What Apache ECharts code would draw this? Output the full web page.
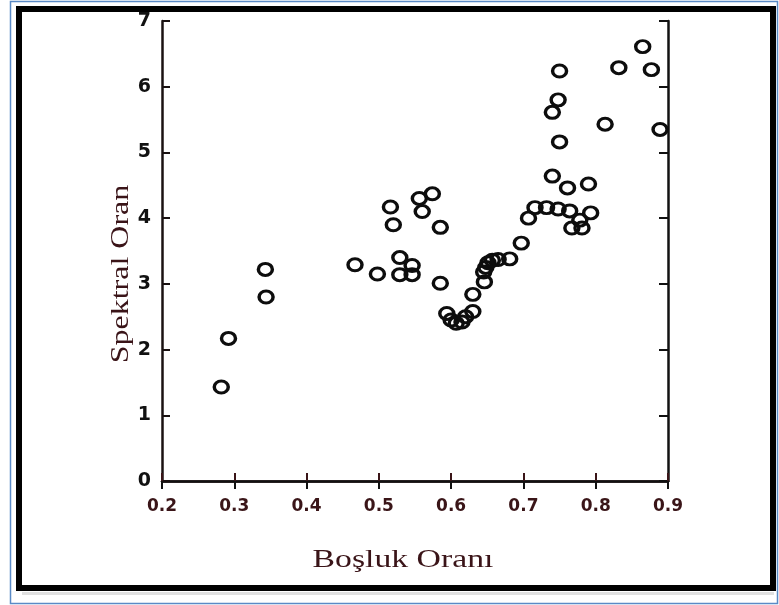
<!DOCTYPE html>
<html>
<head>
<meta charset="utf-8">
<script src="https://cdn.jsdelivr.net/npm/echarts@6/dist/echarts.min.js"></script>
<style>html,body{margin:0;padding:0;background:#fff}#c{width:779px;height:605px}</style>
</head>
<body>
<div id="c"></div>
<script>
// Data
var xValues = [0.282,0.292,0.343,0.344,0.467,0.498,0.516,0.520,0.529,0.529,0.546,0.546,0.556,0.560,0.574,0.585,0.585,0.594,0.600,0.607,0.615,0.620,0.630,0.630,0.646,0.645,0.648,0.651,0.657,0.665,0.681,0.697,0.707,0.716,0.732,0.748,0.764,0.793,0.778,0.767,0.781,0.740,0.761,0.790,0.750,0.740,0.748,0.750,0.813,0.832,0.865,0.877,0.889];
var yValues = [1.43,2.17,3.22,2.80,3.29,3.15,4.17,3.90,3.40,3.14,3.28,3.14,4.30,4.10,4.37,3.86,3.01,2.55,2.45,2.40,2.42,2.50,2.58,2.84,3.03,3.18,3.25,3.32,3.36,3.37,3.38,3.62,4.00,4.16,4.16,4.14,4.11,4.08,3.97,3.85,3.85,4.64,4.46,4.52,5.16,5.61,5.80,6.24,5.43,6.29,6.61,6.26,5.35];
var xTitle = 'Boşluk Oranı';
var yTitle = 'Spektral Oran';

var points = xValues.map(function (x, i) { return [x, yValues[i]]; });

var chart = echarts.init(document.getElementById('c'), null, { renderer: 'canvas' });
var maroon = '#3a1518';
var option = {
  backgroundColor: '#ffffff',
  animation: false,
  grid: { left: 162, top: 21, right: 111, bottom: 124 },
  xAxis: [{
    type: 'value', min: 0.2, max: 0.9, interval: 0.1, position: 'bottom',
    axisLine: { show: true, lineStyle: { color: maroon, width: 2.5 } },
    axisTick: { show: true, inside: true, length: 8, lineStyle: { color: maroon, width: 2 } },
    splitLine: { show: false },
    axisLabel: { color: maroon, fontFamily: 'DejaVu Sans', fontWeight: 'bold', fontSize: 17, margin: 17,
      formatter: function (v) { return v.toFixed(1); } }
  }, {
    type: 'value', min: 0.2, max: 0.9, interval: 0.1, position: 'top',
    axisLine: { show: true, lineStyle: { color: '#111', width: 2.5 } },
    axisTick: { show: true, inside: true, length: 8, lineStyle: { color: '#111', width: 2 } },
    splitLine: { show: false }, axisLabel: { show: false }
  }],
  yAxis: [{
    type: 'value', min: 0, max: 7, interval: 1, position: 'left',
    axisLine: { show: true, lineStyle: { color: '#1a1212', width: 2.5 } },
    axisTick: { show: true, inside: true, length: 8, lineStyle: { color: '#1a1212', width: 2 } },
    splitLine: { show: false },
    axisLabel: { color: '#111', fontFamily: 'DejaVu Sans', fontWeight: 'bold', fontSize: 19, margin: 11 }
  }, {
    type: 'value', min: 0, max: 7, interval: 1, position: 'right',
    axisLine: { show: true, lineStyle: { color: '#111', width: 2.5 } },
    axisTick: { show: true, inside: true, length: 9, lineStyle: { color: '#111', width: 2 } },
    splitLine: { show: false }, axisLabel: { show: false }
  }],
  series: [{
    type: 'scatter', xAxisIndex: 0, yAxisIndex: 0,
    data: points,
    symbol: 'circle', symbolSize: [14, 12],
    itemStyle: { color: 'rgba(255,255,255,0)', borderColor: '#0d0d0d', borderWidth: 3.2, opacity: 1 }
  }],
  graphic: [
    { type: 'rect', silent: true, shape: { x: 10.5, y: 1.5, width: 767, height: 602 },
      style: { fill: 'none', stroke: '#5a8ac6', lineWidth: 1.5 } },
    { type: 'rect', silent: true, shape: { x: 22, y: 592, width: 752, height: 3 },
      style: { fill: 'rgba(0,0,0,0.12)' } },
    { type: 'rect', silent: true, shape: { x: 19, y: 9, width: 754, height: 579 },
      style: { fill: 'none', stroke: '#000', lineWidth: 6 } },
    { type: 'text', silent: true, x: 403, y: 560, scaleX: 1.35,
      style: { text: xTitle, fill: '#3a1418', font: '25px "Liberation Serif"', textAlign: 'center', textVerticalAlign: 'middle' } },
    { type: 'text', silent: true, x: 121, y: 274, rotation: Math.PI / 2, scaleX: 1.28,
      style: { text: yTitle, fill: '#3a1418', font: '25px "Liberation Serif"', textAlign: 'center', textVerticalAlign: 'middle' } }
  ]
};
chart.setOption(option);
</script>
</body>
</html>
